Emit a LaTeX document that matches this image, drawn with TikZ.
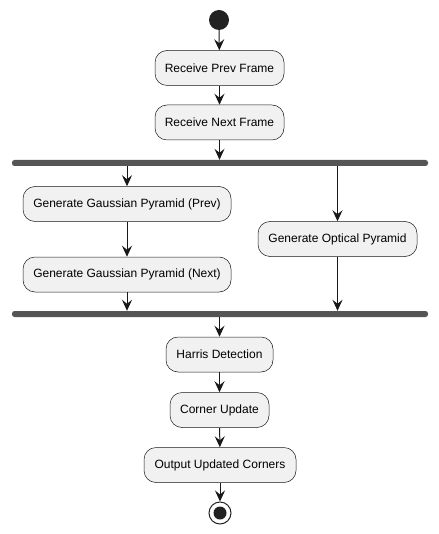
\documentclass[tikz,border=0pt]{standalone}
\usepackage{fontspec}
\setmainfont{Liberation Sans}
\usetikzlibrary{arrows.meta}
\definecolor{boxfill}{HTML}{F1F1F1}
\definecolor{linec}{HTML}{181818}
\definecolor{barc}{HTML}{555555}
\definecolor{dotc}{HTML}{222222}
\begin{document}
\begin{tikzpicture}[x=1pt,y=-1pt,
  act/.style={draw=linec, line width=0.5pt, fill=boxfill, rounded corners=12pt, minimum height=35pt, inner sep=0pt, font=\fontsize{12}{14}\selectfont, text=black},
  bar/.style={fill=barc, draw=none, rounded corners=2.5pt, minimum width=416pt, minimum height=6pt, inner sep=0pt},
  flow/.style={draw=linec, line width=1pt, -{Stealth[length=11pt,width=10pt,inset=4pt]}}]
\useasboundingbox (0,0) rectangle (438,534);
\node[circle, fill=dotc, minimum size=20pt, inner sep=0pt] (start) at (219,20) {};
\node[act, minimum width=129pt] (prev) at (219.5,68) {Receive Prev Frame};
\node[act, minimum width=129pt] (next) at (219.5,122.5) {Receive Next Frame};
\node[bar] (fork) at (220,163) {};
\node[act, minimum width=208pt] (gprev) at (127,204) {Generate Gaussian Pyramid (Prev)};
\node[act, minimum width=208pt] (gnext) at (127,274.5) {Generate Gaussian Pyramid (Next)};
\node[act, minimum width=159pt] (opt) at (337.5,239) {Generate Optical Pyramid};
\node[bar] (join) at (220,314) {};
\node[act, minimum width=107pt] (harris) at (219.5,354.5) {Harris Detection};
\node[act, minimum width=99pt] (corner) at (219.5,410) {Corner Update};
\node[act, minimum width=152pt] (out) at (220,465) {Output Updated Corners};
\node[circle, draw=dotc, line width=1pt, fill=white, minimum size=22pt, inner sep=0pt] (stop) at (220,513) {};
\node[circle, fill=dotc, minimum size=13pt, inner sep=0pt] (stopin) at (220,513) {};

\draw[flow] (start) -- (prev);
\draw[flow] (prev) -- (next);
\draw[flow] (next) -- (next.south |- fork.north);
\draw[flow] (gprev.north |- fork.south) -- (gprev.north);
\draw[flow] (gprev) -- (gnext);
\draw[flow] (opt.north |- fork.south) -- (opt.north);
\draw[flow] (gnext) -- (gnext.south |- join.north);
\draw[flow] (opt) -- (opt.south |- join.north);
\draw[flow] (harris.north |- join.south) -- (harris.north);
\draw[flow] (harris) -- (corner);
\draw[flow] (corner) -- (out);
\draw[flow] (out) -- (stop);
\end{tikzpicture}
\end{document}
